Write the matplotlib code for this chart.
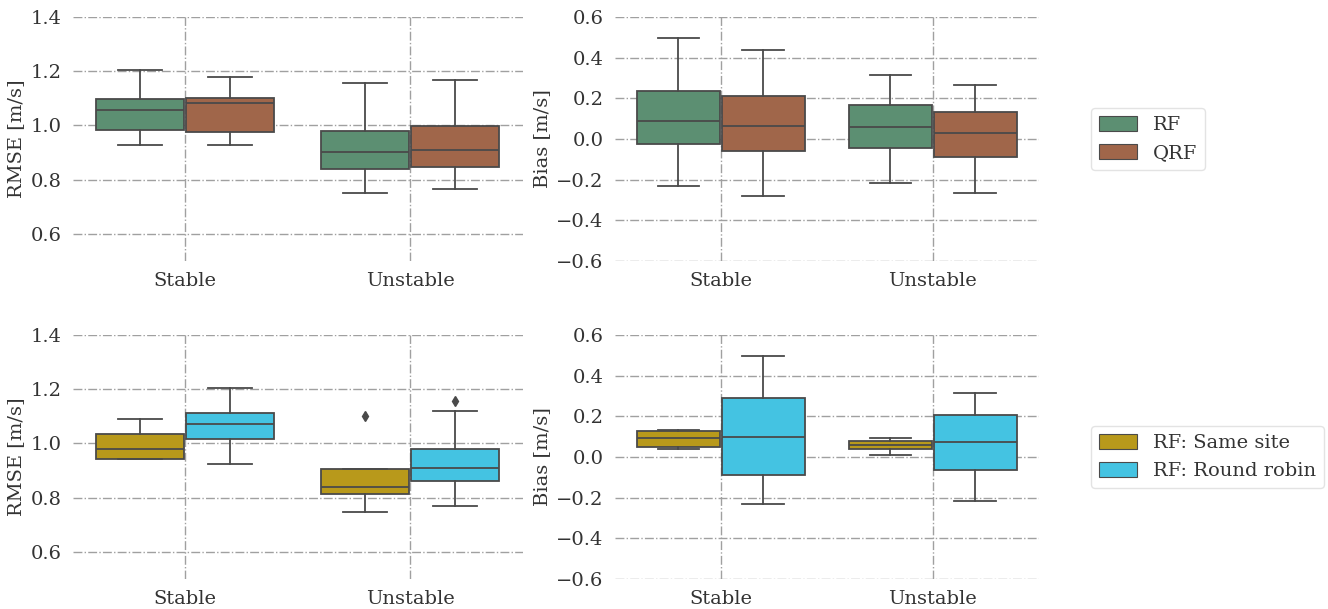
import matplotlib
matplotlib.use("Agg")
import matplotlib.pyplot as plt

plt.rcParams['font.family'] = ['DejaVu Serif']
plt.rcParams['font.size'] = 14

categories = ["Stable", "Unstable"]

# each box: (whislo, q1, med, q3, whishi, fliers)
rmse_rf = [(0.927, 0.983, 1.057, 1.096, 1.204, []), (0.752, 0.841, 0.903, 0.980, 1.157, [])]
rmse_qrf = [(0.928, 0.975, 1.083, 1.100, 1.178, []), (0.767, 0.845, 0.911, 0.998, 1.168, [])]
bias_rf = [(-0.230, -0.023, 0.090, 0.235, 0.495, []), (-0.217, -0.043, 0.057, 0.168, 0.315, [])]
bias_qrf = [(-0.282, -0.058, 0.065, 0.210, 0.440, []), (-0.265, -0.089, 0.028, 0.134, 0.266, [])]

rmse_same = [(0.941, 0.941, 0.978, 1.033, 1.092, []), (0.748, 0.815, 0.839, 0.906, 0.906, [1.102])]
rmse_robin = [(0.926, 1.017, 1.073, 1.114, 1.205, []), (0.770, 0.863, 0.909, 0.979, 1.118, [1.155])]
bias_same = [(0.037, 0.050, 0.092, 0.128, 0.135, []), (0.012, 0.037, 0.060, 0.078, 0.091, [])]
bias_robin = [(-0.229, -0.088, 0.099, 0.291, 0.495, []), (-0.215, -0.065, 0.076, 0.207, 0.315, [])]

labels_top = ["RF", "QRF"]
labels_bot = ["RF: Same site", "RF: Round robin"]
colors_top = ["#5c8f72", "#a0664a"]
colors_bot = ["#b8991b", "#44c3e2"]

edge = "#4a4a4a"


def stats(box):
    lo, q1, med, q3, hi, fl = box
    return dict(whislo=lo, q1=q1, med=med, q3=q3, whishi=hi, fliers=fl)


def draw(ax, series, colors, ylim, yticks, ylabel):
    for k, (data, c) in enumerate(zip(series, colors)):
        pos = [i - 0.2 + 0.4 * k for i in range(len(categories))]
        ax.bxp([stats(b) for b in data], positions=pos, widths=0.392,
               patch_artist=True, showfliers=True,
               boxprops=dict(facecolor=c, edgecolor=edge, linewidth=1.3),
               medianprops=dict(color=edge, linewidth=1.3),
               whiskerprops=dict(color=edge, linewidth=1.3),
               capprops=dict(color=edge, linewidth=1.3),
               flierprops=dict(marker='d', markerfacecolor=edge, markeredgecolor=edge, markersize=5))
    ax.set_xlim(-0.5, 1.5)
    ax.set_ylim(*ylim)
    ax.set_xticks(range(len(categories)))
    ax.set_xticklabels(categories)
    ax.set_yticks(yticks)
    ax.set_ylabel(ylabel, color="#333333")
    for s in ax.spines.values():
        s.set_visible(False)
    ax.tick_params(length=0, pad=8, colors="#333333")
    ax.grid(True, linestyle='-.', color='#a0a0a0', linewidth=1)
    ax.set_axisbelow(True)


fig = plt.figure(figsize=(13.28, 6.09), dpi=100)
W, H = 1328.0, 609.0
ax1 = fig.add_axes([72.5 / W, 1 - 261 / H, 450 / W, 244 / H])
ax2 = fig.add_axes([614.7 / W, 1 - 261 / H, 424 / W, 244 / H])
ax3 = fig.add_axes([72.5 / W, 1 - 579 / H, 450 / W, 244 / H])
ax4 = fig.add_axes([614.7 / W, 1 - 579 / H, 424 / W, 244 / H])

rmse_ticks = [0.6, 0.8, 1.0, 1.2, 1.4]
bias_ticks = [-0.6, -0.4, -0.2, 0.0, 0.2, 0.4, 0.6]

draw(ax1, [rmse_rf, rmse_qrf], colors_top, (0.5, 1.4), rmse_ticks, "RMSE [m/s]")
draw(ax2, [bias_rf, bias_qrf], colors_top, (-0.6, 0.6), bias_ticks, "Bias [m/s]")
draw(ax3, [rmse_same, rmse_robin], colors_bot, (0.5, 1.4), rmse_ticks, "RMSE [m/s]")
draw(ax4, [bias_same, bias_robin], colors_bot, (-0.6, 0.6), bias_ticks, "Bias [m/s]")

for ax, labels, colors in [(ax2, labels_top, colors_top), (ax4, labels_bot, colors_bot)]:
    handles = [plt.Rectangle((0, 0), 1, 1, facecolor=c, edgecolor=edge, linewidth=0.8) for c in colors]
    leg = ax.legend(handles, labels, loc='center left', bbox_to_anchor=(1.10, 0.5),
                    frameon=True, fontsize=14, handlelength=2.0, handleheight=0.8)
    leg.get_frame().set_edgecolor('#dddddd')
    for t in leg.get_texts():
        t.set_color('#333333')

fig.savefig("out.png", dpi=100)
